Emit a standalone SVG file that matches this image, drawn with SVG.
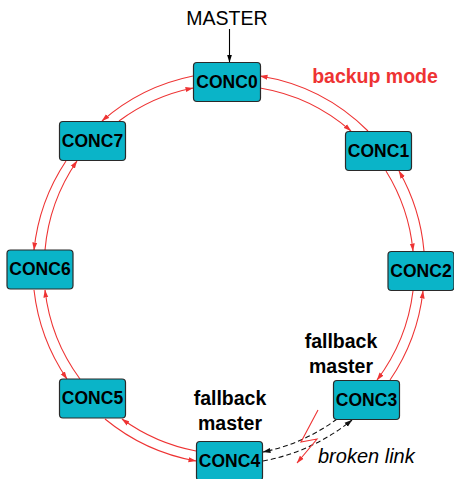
<svg xmlns="http://www.w3.org/2000/svg" width="454" height="479" viewBox="0 0 454 479">
<style>
.node rect{fill:#0AB4C8;stroke:#2a2a2a;stroke-width:1.2}
.node text{font-family:"Liberation Sans",Arial,sans-serif;font-weight:bold;font-size:17.5px;fill:#000;text-anchor:middle}
.red{fill:none;stroke:#EE3333;stroke-width:1.1;marker-end:url(#ar)}
.dash{fill:none;stroke:#111;stroke-width:1.1;stroke-dasharray:5,3;marker-end:url(#ab)}
.lbl{font-family:"Liberation Sans",Arial,sans-serif;font-weight:bold;font-size:19.5px;fill:#000;text-anchor:middle}
</style>
<defs>
<marker id="ar" markerWidth="8" markerHeight="6" refX="7.5" refY="3" orient="auto" markerUnits="userSpaceOnUse"><path d="M0,0.5 L8,3 L0,5.5 z" fill="#EE3333"/></marker>
<marker id="ab" markerWidth="8" markerHeight="6" refX="7.5" refY="3" orient="auto" markerUnits="userSpaceOnUse"><path d="M0,0.5 L8,3 L0,5.5 z" fill="#111"/></marker>
<marker id="ak" markerWidth="8" markerHeight="6" refX="7.5" refY="3" orient="auto" markerUnits="userSpaceOnUse"><path d="M0,0.5 L8,3 L0,5.5 z" fill="#000"/></marker>
</defs>
<g id="connectors">
<line x1="229.5" y1="29" x2="229.5" y2="62" stroke="#000" stroke-width="1.1" marker-end="url(#ak)"/>
<path class="red" d="M260,88 A185,185 0 0 1 351,131"/>
<path class="red" d="M386,171 A185,185 0 0 1 413,251"/>
<path class="red" d="M413,291 A185,185 0 0 1 377,380"/>
<path class="dash" d="M337,419 A185,185 0 0 1 263,452"/>
<path class="red" d="M196,451 A185,185 0 0 1 122,419"/>
<path class="red" d="M80,379 A185,185 0 0 1 45,290"/>
<path class="red" d="M45,250 A185,185 0 0 1 77,161"/>
<path class="red" d="M119,121 A185,185 0 0 1 193,88"/>
<path class="red" d="M368,131 A197,197 0 0 0 260,76"/>
<path class="red" d="M424,251 A197,197 0 0 0 399,171"/>
<path class="red" d="M390,380 A197,197 0 0 0 423,291"/>
<path class="dash" d="M263,461 A197,197 0 0 0 352,420"/>
<path class="red" d="M105,419 A197,197 0 0 0 196,461"/>
<path class="red" d="M34,290 A197,197 0 0 0 67,379"/>
<path class="red" d="M66,161 A197,197 0 0 0 34,250"/>
<path class="red" d="M193,76 A197,197 0 0 0 102,121"/>
<polyline class="red" stroke-width="1.4" points="318,410 301,442 317,439 297,463"/>
</g>
<g id="CONC0" class="node"><rect x="193.5" y="62.5" width="67" height="39" rx="3.5"/><text x="227" y="87.5">CONC0</text></g>
<g id="CONC1" class="node"><rect x="345.5" y="131.5" width="66" height="39" rx="3.5"/><text x="378.5" y="156.5">CONC1</text></g>
<g id="CONC2" class="node"><rect x="388" y="251.5" width="66" height="39" rx="3.5"/><text x="421" y="276.5">CONC2</text></g>
<g id="CONC3" class="node"><rect x="333.5" y="380.5" width="66" height="39" rx="3.5"/><text x="366.5" y="405.5">CONC3</text></g>
<g id="CONC4" class="node"><rect x="196.5" y="441.5" width="66" height="39" rx="3.5"/><text x="229.5" y="466.5">CONC4</text></g>
<g id="CONC5" class="node"><rect x="59.5" y="379" width="66" height="39" rx="3.5"/><text x="92.5" y="404">CONC5</text></g>
<g id="CONC6" class="node"><rect x="7" y="250" width="66" height="39" rx="3.5"/><text x="40" y="275">CONC6</text></g>
<g id="CONC7" class="node"><rect x="59.5" y="121.5" width="66" height="39" rx="3.5"/><text x="92.5" y="146.5">CONC7</text></g>
<text x="227" y="25" font-family="Liberation Sans,Arial,sans-serif" font-size="19.5" text-anchor="middle" fill="#000">MASTER</text>
<text x="375" y="83" class="lbl" style="fill:#EE3333">backup mode</text>
<text x="341" y="348" class="lbl">fallback</text>
<text x="341" y="373" class="lbl">master</text>
<text x="230" y="405" class="lbl">fallback</text>
<text x="230" y="430" class="lbl">master</text>
<text x="318" y="463" font-family="Liberation Sans,Arial,sans-serif" font-style="italic" font-size="20" fill="#000">broken link</text>
</svg>
